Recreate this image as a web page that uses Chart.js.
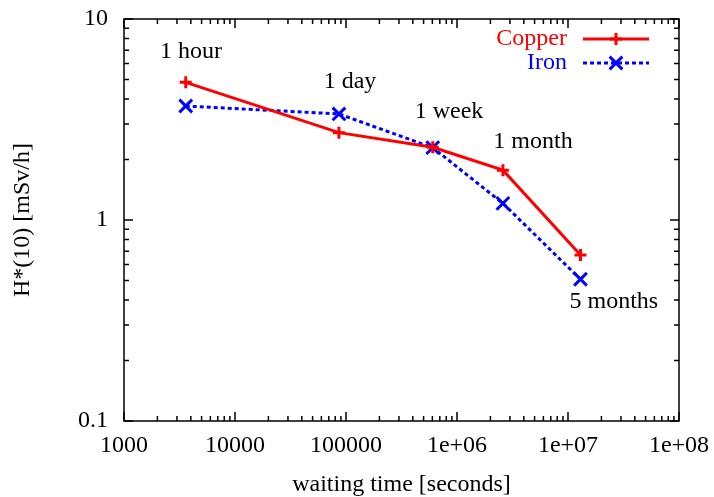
<!DOCTYPE html>
<html>
<head>
<meta charset="utf-8">
<script src="https://cdn.jsdelivr.net/npm/chart.js@4/dist/chart.umd.min.js"></script>
<style>
  html, body { margin: 0; padding: 0; background: #fff; }
  #wrap { width: 714px; height: 497px; }
</style>
</head>
<body>
<div id="wrap"><canvas id="doseChart" width="714" height="497"></canvas></div>
<script>
// waiting time after irradiation [s] and ambient dose rate [mSv/h]
const times = [3600, 86400, 604800, 2592000, 12960000];
const copperDose = [4.84, 2.72, 2.30, 1.77, 0.67];
const ironDose = [3.69, 3.37, 2.29, 1.21, 0.507];

const xTicks = [1000, 10000, 100000, 1e6, 1e7, 1e8];
const xTickLabels = ['1000', '10000', '100000', '1e+06', '1e+07', '1e+08'];
const yTicks = [0.1, 1, 10];
const yTickLabels = ['0.1', '1', '10'];

// annotation texts, placed in data coordinates
const markLabels = ['1 hour', '1 day', '1 week', '1 month', '5 months'];
const markX = [4015, 108700, 847000, 4.84e6, 2.59e7];
const markY = [6.87, 4.86, 3.44, 2.44, 0.391];

const FONT = '"Liberation Serif", "Times New Roman", serif';
const RED = '#ff0000';
const BLUE = '#0000ff';

// frame + inward log ticks on all four sides (gnuplot look)
const framePlugin = {
    id: 'frame',
    afterDatasetsDraw(chart) {
        const { ctx, chartArea: a, scales: { x, y } } = chart;
        ctx.save();
        ctx.strokeStyle = '#000';
        ctx.lineWidth = 1.5;

        const tick = (px, len, horiz) => {
            ctx.beginPath();
            if (horiz) {
                ctx.moveTo(px, a.bottom); ctx.lineTo(px, a.bottom - len);
                ctx.moveTo(px, a.top); ctx.lineTo(px, a.top + len);
            } else {
                ctx.moveTo(a.left, px); ctx.lineTo(a.left + len, px);
                ctx.moveTo(a.right, px); ctx.lineTo(a.right - len, px);
            }
            ctx.stroke();
        };

        xTicks.forEach((d, i) => {
            tick(x.getPixelForValue(d), 9, true);
            if (i < xTicks.length - 1) {
                for (let k = 2; k < 10; k++) tick(x.getPixelForValue(d * k), 5, true);
            }
        });
        yTicks.forEach((d, i) => {
            tick(y.getPixelForValue(d), 9, false);
            if (i < yTicks.length - 1) {
                for (let k = 2; k < 10; k++) tick(y.getPixelForValue(d * k), 5, false);
            }
        });

        ctx.strokeRect(a.left, a.top, a.right - a.left, a.bottom - a.top);
        ctx.restore();
    }
};

const markPlugin = {
    id: 'marks',
    afterDatasetsDraw(chart) {
        const { ctx, scales: { x, y } } = chart;
        ctx.save();
        ctx.font = '24px ' + FONT;
        ctx.fillStyle = '#000';
        ctx.textAlign = 'center';
        ctx.textBaseline = 'middle';
        markLabels.forEach((t, i) => {
            ctx.fillText(t, x.getPixelForValue(markX[i]), y.getPixelForValue(markY[i]));
        });
        ctx.restore();
    }
};

// gnuplot style key in the upper right corner
const keyPlugin = {
    id: 'key',
    afterDatasetsDraw(chart) {
        const { ctx } = chart;
        const rows = [39, 63];
        ctx.save();
        chart.data.datasets.forEach((ds, i) => {
            const yy = rows[i];
            ctx.font = '24px ' + FONT;
            ctx.fillStyle = ds.borderColor;
            ctx.textAlign = 'right';
            ctx.textBaseline = 'middle';
            ctx.fillText(ds.label, 567, yy);

            ctx.strokeStyle = ds.borderColor;
            ctx.lineWidth = ds.borderWidth;
            ctx.setLineDash(ds.borderDash || []);
            ctx.beginPath();
            ctx.moveTo(583, yy);
            ctx.lineTo(649, yy);
            ctx.stroke();
            ctx.setLineDash([]);
            Chart.helpers.drawPoint(ctx, {
                pointStyle: ds.pointStyle,
                radius: ds.pointRadius,
                borderWidth: ds.pointBorderWidth
            }, 616, yy);
        });
        ctx.restore();
    }
};

new Chart(document.getElementById('doseChart'), {
    type: 'line',
    data: {
        datasets: [
            {
                label: 'Copper',
                data: times.map((t, i) => ({ x: t, y: copperDose[i] })),
                borderColor: RED,
                backgroundColor: RED,
                borderWidth: 3,
                pointStyle: 'cross',
                pointRadius: 6,
                pointBorderWidth: 3,
                tension: 0,
                fill: false
            },
            {
                label: 'Iron',
                data: times.map((t, i) => ({ x: t, y: ironDose[i] })),
                borderColor: BLUE,
                backgroundColor: BLUE,
                borderWidth: 3,
                borderDash: [4, 3],
                pointStyle: 'crossRot',
                pointRadius: 9,
                pointBorderWidth: 3,
                tension: 0,
                fill: false
            }
        ]
    },
    options: {
        responsive: false,
        animation: false,
        layout: { padding: { top: 19, right: 35, left: 0, bottom: 0 } },
        plugins: {
            legend: { display: false },
            tooltip: { enabled: false }
        },
        scales: {
            x: {
                type: 'logarithmic',
                min: 1000,
                max: 1e8,
                afterBuildTicks: s => { s.ticks = xTicks.map(v => ({ value: v })); },
                afterFit: s => { s.height = 76; s.paddingLeft = 0; s.paddingRight = 0; },
                grid: { display: false, drawTicks: false },
                border: { display: false },
                ticks: {
                    autoSkip: false,
                    maxRotation: 0,
                    padding: 10,
                    color: '#000',
                    font: { family: FONT, size: 24 },
                    callback: (v, i) => xTickLabels[i]
                },
                title: {
                    display: true,
                    text: 'waiting time [seconds]',
                    color: '#000',
                    padding: { top: 0, bottom: 0 },
                    font: { family: FONT, size: 24, lineHeight: 1 }
                }
            },
            y: {
                type: 'logarithmic',
                min: 0.1,
                max: 10,
                afterBuildTicks: s => { s.ticks = yTicks.map(v => ({ value: v })); },
                afterFit: s => { s.width = 124; s.paddingTop = 0; s.paddingBottom = 0; },
                grid: { display: false, drawTicks: false },
                border: { display: false },
                ticks: {
                    autoSkip: false,
                    padding: 16,
                    color: '#000',
                    font: { family: FONT, size: 24 },
                    callback: (v, i) => yTickLabels[i]
                },
                title: {
                    display: true,
                    text: 'H*(10) [mSv/h]',
                    color: '#000',
                    padding: { top: 11, bottom: 0 },
                    font: { family: FONT, size: 24, lineHeight: 1 }
                }
            }
        }
    },
    plugins: [framePlugin, markPlugin, keyPlugin]
});
</script>
</body>
</html>
